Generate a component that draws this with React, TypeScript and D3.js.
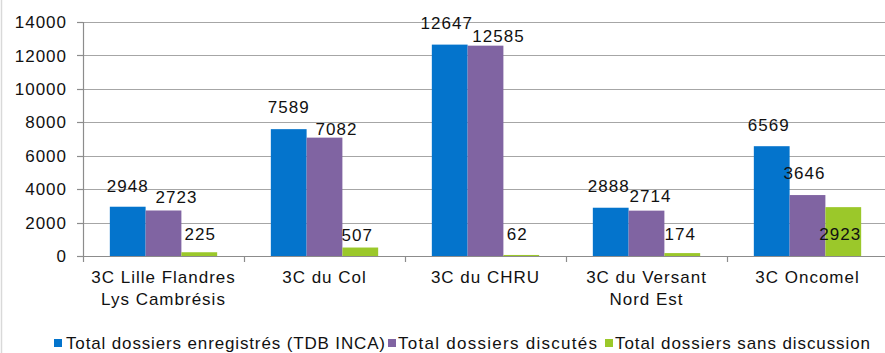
import React from "react";
import * as d3 from "d3";

const categories: string[][] = [
  ["3C Lille Flandres", "Lys Cambrésis"],
  ["3C du Col"],
  ["3C du CHRU"],
  ["3C du Versant", "Nord Est"],
  ["3C Oncomel"],
];
const seriesNames = [
  "Total dossiers enregistrés (TDB INCA)",
  "Total dossiers discutés",
  "Total dossiers sans discussion",
];
const enregistres = [2948, 7589, 12647, 2888, 6569];
const discutes = [2723, 7082, 12585, 2714, 3646];
const sansDiscussion = [225, 507, 62, 174, 2923];
const yTicks = [0, 2000, 4000, 6000, 8000, 10000, 12000, 14000];

// manual label nudges (dx, dy of baseline relative to bar top), as in the original
const labelNudges: [number, number][][] = [
  [[0, -15], [0, -16], [-3, -16], [-2, -16], [-3, -15]],
  [[13, -7], [12, -3], [13, -4], [4, -9], [-3, -16]],
  [[1, -12], [-3, -7], [-4, -15], [-2, -13], [-3, 33]],
];

const colors = ["#0474CC", "#8064A2", "#9BC82A"];
const FONT = "'Liberation Sans', Arial, sans-serif";

export default function App() {
  const W = 885, H = 353;
  const left = 83, right = 888, top = 22, bottom = 256;
  const series = [enregistres, discutes, sansDiscussion];

  const x0 = d3.scaleBand<number>().domain(d3.range(categories.length)).range([left, right]).paddingInner(0).paddingOuter(0);
  const x1 = d3.scaleBand<number>().domain([0, 1, 2]).range([0, x0.bandwidth()]).paddingInner(0).paddingOuter(0.75);
  const y = d3.scaleLinear().domain([0, 14000]).range([bottom, top]);

  const legendPos = [
    { sq: 54, tx: 66, len: 319 },
    { sq: 388, tx: 398, len: 199 },
    { sq: 605, tx: 615, len: 255 },
  ];

  return (
    <svg width={W} height={H} style={{ position: "absolute", left: 0, top: 0, display: "block", background: "#fff" }} fontFamily={FONT}>
      <line x1={1.5} x2={1.5} y1={0} y2={H} stroke="#d9d9d9" strokeWidth={1.5} />
      {/* gridlines */}
      {yTicks.map((t) => (
        <g key={t}>
          {t > 0 && <line x1={left} x2={W} y1={Math.round(y(t)) + 0.5} y2={Math.round(y(t)) + 0.5} stroke="#a6a6a6" strokeWidth={1.2} />}
          <line x1={left - 6} x2={left} y1={Math.round(y(t)) + 0.5} y2={Math.round(y(t)) + 0.5} stroke="#8c8c8c" strokeWidth={1.2} />
          <text x={67} y={y(t)} dy="0.36em" textAnchor="end" fontSize={17} letterSpacing={1} fill="#111">{t}</text>
        </g>
      ))}
      {/* bars */}
      {series.map((vals, si) =>
        vals.map((v, ci) => {
          const bx = x0(ci)! + x1(si)!;
          return <rect key={`${si}-${ci}`} x={bx} y={y(v)} width={x1.bandwidth()} height={bottom - y(v)} fill={colors[si]} />;
        })
      )}
      {/* axes */}
      <line x1={left + 0.5} x2={left + 0.5} y1={top} y2={bottom} stroke="#8c8c8c" strokeWidth={1.2} />
      <line x1={left} x2={W} y1={bottom + 0.5} y2={bottom + 0.5} stroke="#8c8c8c" strokeWidth={1.2} />
      {d3.range(categories.length + 1).map((i) => {
        const xx = left + i * x0.bandwidth();
        return <line key={i} x1={xx + 0.5} x2={xx + 0.5} y1={bottom} y2={bottom + 6} stroke="#8c8c8c" strokeWidth={1.2} />;
      })}
      {/* value labels */}
      {series.map((vals, si) =>
        vals.map((v, ci) => {
          const cx = x0(ci)! + x1(si)! + x1.bandwidth() / 2;
          const [dx, dy] = labelNudges[si][ci];
          return (
            <text key={`l${si}-${ci}`} x={cx + dx} y={y(v) + dy} textAnchor="middle" fontSize={17} letterSpacing={1} fill="#111">
              {v}
            </text>
          );
        })
      )}
      {/* category labels */}
      {categories.map((lines, ci) => (
        <text key={`c${ci}`} textAnchor="middle" fontSize={17} letterSpacing={1} fill="#111">
          {lines.map((ln, li) => (
            <tspan key={li} x={x0(ci)! + x0.bandwidth() / 2} y={283 + li * 22}>{ln}</tspan>
          ))}
        </text>
      ))}
      {/* legend */}
      {seriesNames.map((n, i) => (
        <g key={`lg${i}`}>
          <rect x={legendPos[i].sq} y={339} width={8} height={8} fill={colors[i]} />
          <text x={legendPos[i].tx} y={349} fontSize={17} textLength={legendPos[i].len} lengthAdjust="spacing" fill="#111">{n}</text>
        </g>
      ))}
    </svg>
  );
}
